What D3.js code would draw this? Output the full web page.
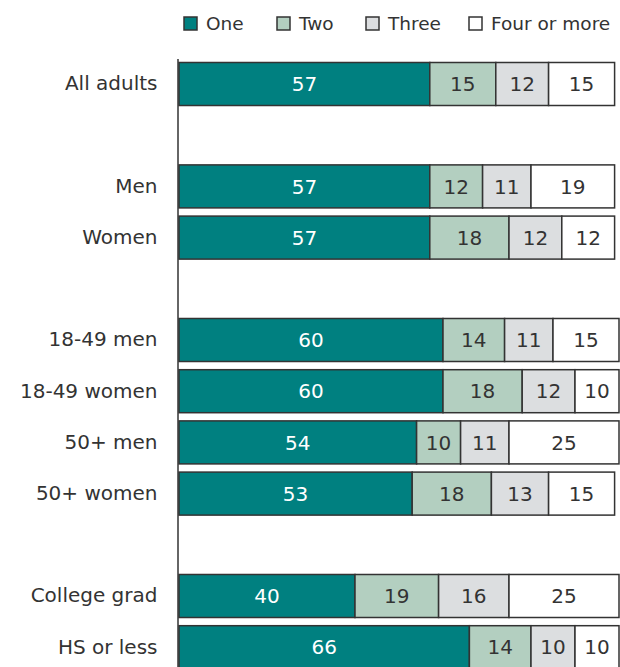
<!DOCTYPE html>
<html>
<head>
<meta charset="utf-8">
<script src="https://cdn.jsdelivr.net/npm/d3@7"></script>
<style>
  html, body { margin: 0; padding: 0; background: #fff; }
  svg { display: block; font-family: "DejaVu Sans", Verdana, sans-serif; }
</style>
</head>
<body>
<svg id="chart" width="620" height="667"></svg>
<script>
// ---- data ----
const categories = ["All adults", "Men", "Women", "18-49 men", "18-49 women", "50+ men", "50+ women", "College grad", "HS or less"];
const seriesNames = ["One", "Two", "Three", "Four or more"];
const one   = [57, 57, 57, 60, 60, 54, 53, 40, 66];
const two   = [15, 12, 18, 14, 18, 10, 18, 19, 14];
const three = [12, 11, 12, 11, 12, 11, 13, 16, 10];
const four  = [15, 19, 12, 15, 10, 25, 15, 25, 10];
// row order with blank spacer rows between groups
const rowOrder = ["All adults", "gap1", "Men", "Women", "gap2", "18-49 men", "18-49 women", "50+ men", "50+ women", "gap3", "College grad", "HS or less"];

const colors = ["#008080", "#b3cfc0", "#dcdee0", "#ffffff"];
const textColors = ["#ffffff", "#333333", "#333333", "#333333"];

const svg = d3.select("#chart");
const W = 620, H = 667;

const rows = categories.map((c, i) => ({ cat: c, One: one[i], Two: two[i], Three: three[i], "Four or more": four[i] }));
const stacked = d3.stack().keys(seriesNames)(rows);

const x = d3.scaleLinear().domain([0, 100]).range([179, 619]);
const y = d3.scaleBand().domain(rowOrder).range([58.4, 58.4 + 12 * 51.2]).paddingInner(0.16).paddingOuter(0.08);

// bars
const layers = svg.append("g").selectAll("g")
  .data(stacked).join("g")
  .attr("fill", (d, i) => colors[i]);

layers.selectAll("rect")
  .data(d => d.map(v => ({ v, cat: v.data.cat })))
  .join("rect")
  .attr("x", d => x(d.v[0]))
  .attr("y", d => y(d.cat))
  .attr("width", d => x(d.v[1]) - x(d.v[0]))
  .attr("height", y.bandwidth())
  .attr("stroke", "#333")
  .attr("stroke-width", 1.5);

// value labels
layers.each(function(layer, li) {
  d3.select(this).selectAll("text")
    .data(layer.map(v => ({ v, cat: v.data.cat })))
    .join("text")
    .attr("x", d => (x(d.v[0]) + x(d.v[1])) / 2)
    .attr("y", d => y(d.cat) + y.bandwidth() / 2)
    .attr("dy", "0.36em")
    .attr("text-anchor", "middle")
    .attr("font-size", 20)
    .attr("fill", textColors[li])
    .text(d => d.v[1] - d.v[0]);
});

// category axis
const axis = svg.append("g")
  .attr("transform", "translate(177.5,0)")
  .call(d3.axisLeft(y).tickSize(0).tickSizeOuter(0).tickPadding(20)
    .tickFormat(d => d.startsWith("gap") ? "" : d));
axis.select(".domain").attr("stroke", "#333").attr("stroke-width", 1.5);
axis.selectAll(".tick text").attr("font-size", 20).attr("fill", "#333")
  .attr("font-family", '"DejaVu Sans", Verdana, sans-serif');

// legend
const legendX = [184, 277, 366, 469];
const legend = svg.append("g").selectAll("g")
  .data(seriesNames).join("g")
  .attr("transform", (d, i) => `translate(${legendX[i]},17)`);
legend.append("rect")
  .attr("width", 13).attr("height", 13)
  .attr("fill", (d, i) => colors[i])
  .attr("stroke", "#333").attr("stroke-width", 1.5);
legend.append("text")
  .attr("x", 22).attr("y", 6.5).attr("dy", "0.36em")
  .attr("font-size", 18.5).attr("fill", "#333")
  .text(d => d);
</script>
</body>
</html>
